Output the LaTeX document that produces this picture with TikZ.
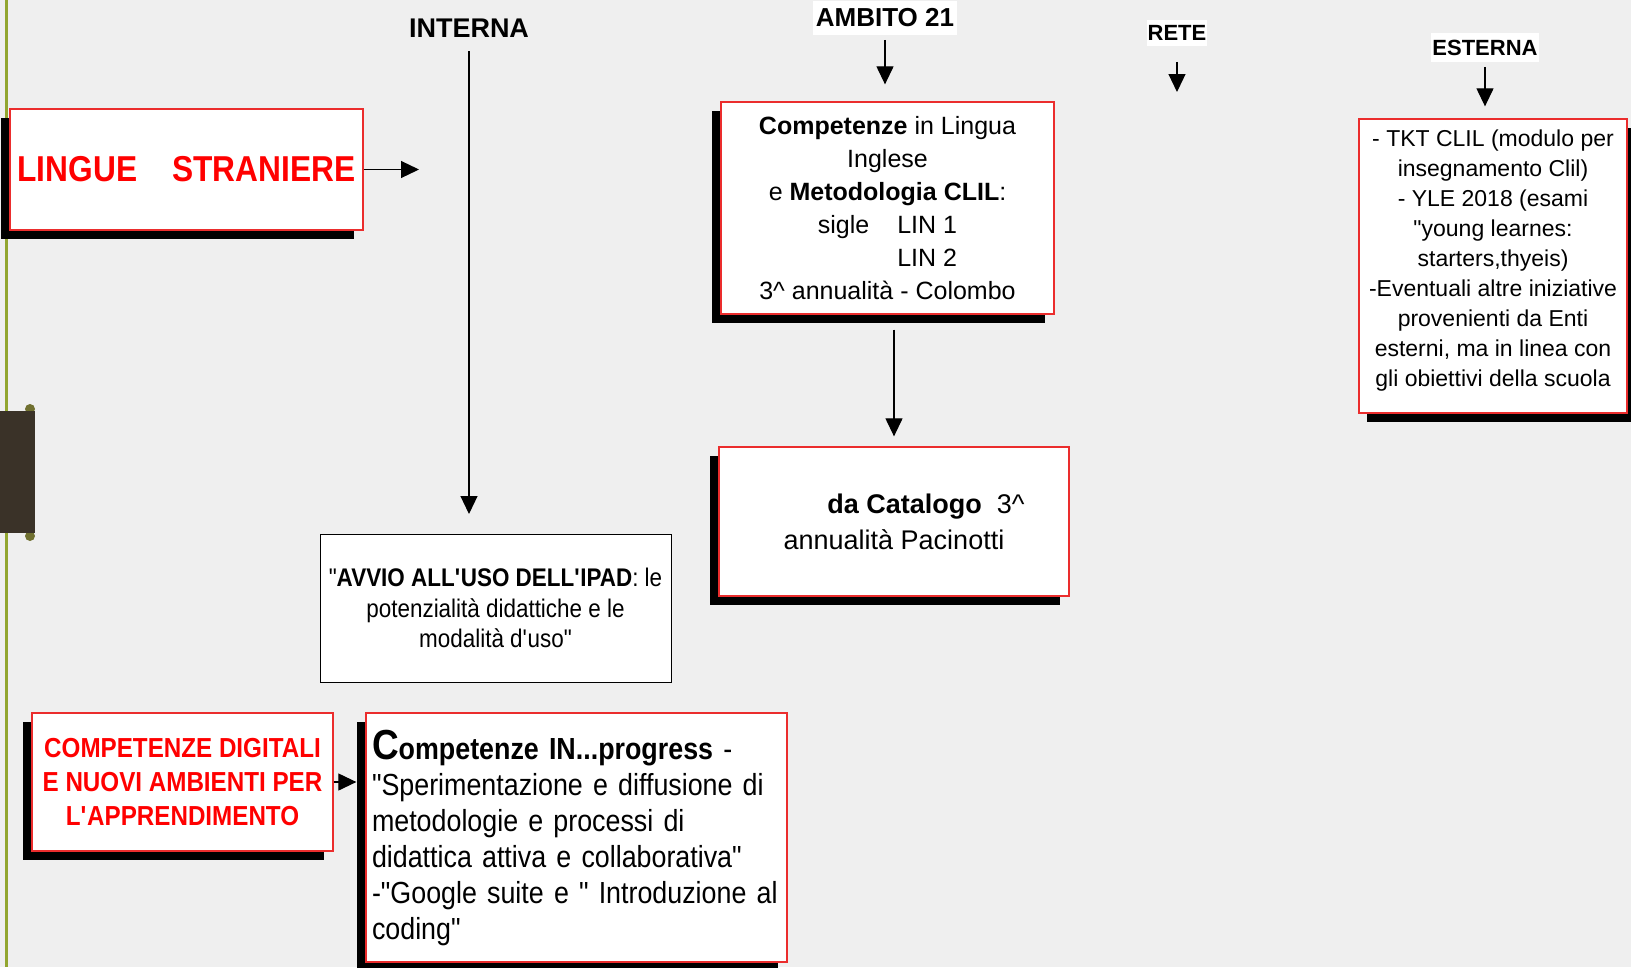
\documentclass[tikz,border=0pt]{standalone}
\usepackage{fontspec}
\setmainfont{Liberation Sans}
\newfontfamily\narrowsans[FakeStretch=0.88]{Liberation Sans}
\usetikzlibrary{arrows.meta,shadows}

\definecolor{bgpaper}{RGB}{239,239,239}
\definecolor{olivebar}{RGB}{146,166,48}
\definecolor{olivedot}{RGB}{112,112,48}
\definecolor{darktab}{RGB}{58,50,40}
\definecolor{boxred}{RGB}{235,45,45}

\newcommand{\sq}{\textquotesingle}
\newcommand{\dq}{\textquotedbl}
\newcommand{\fsz}[2]{\fontsize{#1}{#2}\selectfont}

\tikzset{
    framebox/.style={draw=boxred, line width=1.3pt, fill=white, align=center, inner sep=4pt},
    redbox/.style={framebox, drop shadow={shadow xshift=-9pt, shadow yshift=-9pt, fill=black, opacity=1}},
    redboxright/.style={framebox, drop shadow={shadow xshift=8pt, shadow yshift=-9pt, fill=black, opacity=1}},
    plainbox/.style={draw=black, line width=1pt, fill=white, align=center, inner sep=4pt},
    heading/.style={inner sep=2pt},
    arr/.style={-{Triangle[length=18pt,width=17pt]}, line width=1.2pt},
}

\begin{document}
\begin{tikzpicture}[x=1pt, y=-1pt]
    \useasboundingbox (0,0) rectangle (1631,967);
    \fill[bgpaper] (0,0) rectangle (1631,967);

    \fill[olivebar] (5,0) rectangle (8,967);
    \fill[olivedot] (30,409) circle (5) (30,536) circle (5);
    \fill[darktab] (0,411) rectangle (35,533);

    \node[heading, font=\fsz{27}{27}\bfseries] (interna) at (469,28) {INTERNA};
    \node[heading, fill=white, inner xsep=3pt, inner ysep=8pt, font=\fsz{26}{26}\bfseries] (ambito) at (885,18) {AMBITO 21};
    \node[heading, fill=white, inner xsep=1pt, inner ysep=5pt, font=\fsz{22}{22}\bfseries] (rete) at (1177,33) {RETE};
    \node[heading, fill=white, inner xsep=1pt, inner ysep=6.5pt, font=\fsz{22}{22}\bfseries] (esterna) at (1485,47.5) {ESTERNA};

    \node[redbox, minimum width=353pt, minimum height=121pt, text=red,
          font=\narrowsans\fsz{36}{40}\bfseries] (lingue) at (186.5,169.5) {LINGUE\hspace{35pt}STRANIERE};

    \node[redbox, minimum width=333pt, minimum height=212pt, font=\fsz{25}{33}] (comp) at (887.5,208)
        {\textbf{Competenze} in Lingua\\
         Inglese\\
         e \textbf{Metodologia CLIL}:\\
         sigle\hspace{28pt}LIN 1\\
         \phantom{sigle\hspace{28pt}}LIN 2\\
         3\textasciicircum{} annualità - Colombo};

    \node[redbox, minimum width=350pt, minimum height=149pt, font=\fsz{27}{36}] (cat) at (894,521.5)
        {\hspace*{64pt}\textbf{da Catalogo}~~3\textasciicircum\\
         annualità Pacinotti};

    \node[plainbox, minimum width=351pt, minimum height=148pt, font=\narrowsans\fsz{25.5}{30.5}] (avvio) at (495.5,608)
        {"\textbf{AVVIO ALL\sq USO DELL\sq IPAD}: le\\
         potenzialità didattiche e le\\
         modalità d\sq uso"};

    \node[redboxright, minimum width=268pt, minimum height=294pt, font=\fsz{23}{30}] (est) at (1493,266)
        {\raisebox{6pt}[\height][\depth]{\begin{tabular}{@{}c@{}}
         - TKT CLIL (modulo per\\
         insegnamento Clil)\\
         - YLE 2018 (esami\\
         \dq young learnes:\\
         starters,thyeis)\\
         -Eventuali altre iniziative\\
         provenienti da Enti\\
         esterni, ma in linea con\\
         gli obiettivi della scuola
         \end{tabular}}};

    \node[redbox, minimum width=301pt, minimum height=138pt, text=red,
          font=\narrowsans\fsz{27.5}{34}\bfseries] (cd) at (182.5,782)
        {COMPETENZE DIGITALI\\
         E NUOVI AMBIENTI PER\\
         L\sq APPRENDIMENTO};

    \node[redbox, minimum width=421pt, minimum height=249pt, text width=409pt, align=left,
          font=\narrowsans\fsz{30.5}{36}] (prog) at (576.5,837.5)
        {{\bfseries{\fsz{42}{36}C}ompetenze IN...progress} -\\
         "Sperimentazione e diffusione di\\
         metodologie e processi di\\
         didattica attiva e collaborativa"\\
         -"Google suite e " Introduzione al\\
         coding"};

    \coordinate (lingueEnd) at (419,169.5);
    \coordinate (reteEnd) at (1177,92);

    \draw[arr] (lingue.east) -- (lingueEnd);
    \draw[arr, shorten <=12pt, shorten >=19.5pt] (interna.south) -- (interna.south |- avvio.north);
    \draw[arr, shorten <=4.5pt, shorten >=17pt] (ambito.south) -- (ambito |- comp.north);
    \draw[arr, shorten <=16pt] (rete.south) -- (reteEnd);
    \draw[arr, shorten <=5pt, shorten >=12pt] (esterna.south) -- (esterna |- est.north);
    \draw[arr, shorten <=15pt, shorten >=10pt] (cat |- comp.south) -- (cat.north);
    \draw[arr, shorten >=9pt] (cd.east) -- (cd.east -| prog.west);
\end{tikzpicture}
\end{document}
